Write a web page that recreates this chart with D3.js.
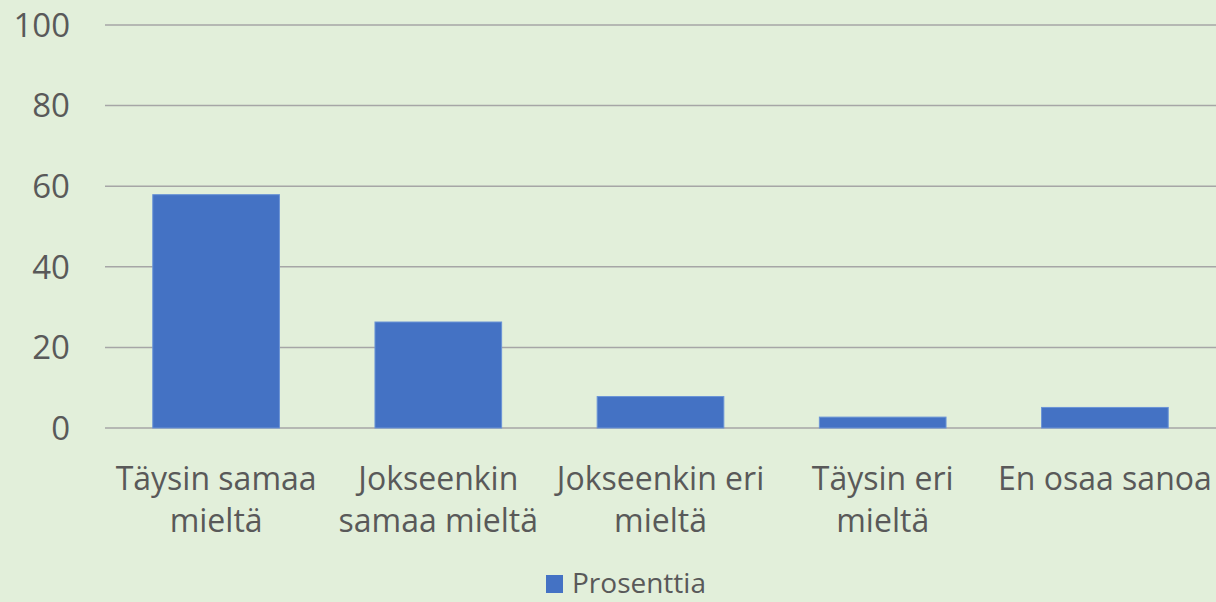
<!DOCTYPE html>
<html lang="fi">
<head>
    <meta charset="UTF-8">
    <title>Prosenttia</title>
    <script src="https://d3js.org/d3.v7.min.js"></script>
    <style>
        body { margin: 0; background: #e2efda; }
        svg { display: block; }
        text { font-family: "Open Sans", "Liberation Sans", sans-serif; fill: #595959; }
    </style>
</head>
<body>
    <svg width="1216" height="602"></svg>

    <script>
        // kategoriat ja arvot
        const categories = [
            ["Täysin samaa", "mieltä"],
            ["Jokseenkin", "samaa mieltä"],
            ["Jokseenkin eri", "mieltä"],
            ["Täysin eri", "mieltä"],
            ["En osaa sanoa"]
        ];
        const values = [57.9, 26.3, 7.8, 2.7, 5.1];
        const yTicks = [0, 20, 40, 60, 80, 100];
        const seriesName = "Prosenttia";

        const svg = d3.select("svg"),
            width = +svg.attr("width"),
            height = +svg.attr("height");

        svg.append("rect").attr("width", width).attr("height", height).attr("fill", "#e2efda");

        const plotLeft = 105, plotRight = 1216, plotTop = 25, plotBottom = 428;

        const x = d3.scaleBand()
            .domain(d3.range(categories.length))
            .range([plotLeft, plotRight])
            .paddingInner(0.43)
            .paddingOuter(0.215);

        const y = d3.scaleLinear().domain([0, 100]).range([plotBottom, plotTop]);

        // gridlines
        svg.append("g").selectAll("line")
            .data(yTicks)
            .enter().append("line")
            .attr("x1", plotLeft).attr("x2", plotRight)
            .attr("y1", d => y(d)).attr("y2", d => y(d))
            .attr("stroke", "#a6a6a6")
            .attr("stroke-width", 1.5);

        // y labels
        svg.append("g").selectAll("text")
            .data(yTicks)
            .enter().append("text")
            .attr("x", 70)
            .attr("y", d => y(d))
            .attr("dy", "0.36em")
            .attr("text-anchor", "end")
            .style("font-size", "33px")
            .text(d => d);

        // bars
        svg.append("g").selectAll("rect")
            .data(values)
            .enter().append("rect")
            .attr("x", (d, i) => x(i))
            .attr("y", d => y(d))
            .attr("width", x.bandwidth())
            .attr("height", d => y(0) - y(d))
            .attr("fill", "#4472c4")
            .attr("stroke", "#6a93d6")
            .attr("stroke-width", 1);

        // category labels
        const catLabel = svg.append("g").selectAll("text")
            .data(categories)
            .enter().append("text")
            .attr("text-anchor", "middle")
            .style("font-size", "32px")
            .attr("transform", (d, i) => `translate(${x(i) + x.bandwidth() / 2},490)`);

        catLabel.selectAll("tspan")
            .data(d => d)
            .enter().append("tspan")
            .attr("x", 0)
            .attr("y", (d, j) => j * 42)
            .text(d => d);

        // legend
        const legend = svg.append("g").attr("transform", "translate(546,575)");
        legend.append("rect")
            .attr("width", 17).attr("height", 18)
            .attr("fill", "#4472c4");
        legend.append("text")
            .attr("x", 26).attr("y", 18)
            .style("font-size", "28px")
            .text(seriesName);
    </script>
</body>
</html>
